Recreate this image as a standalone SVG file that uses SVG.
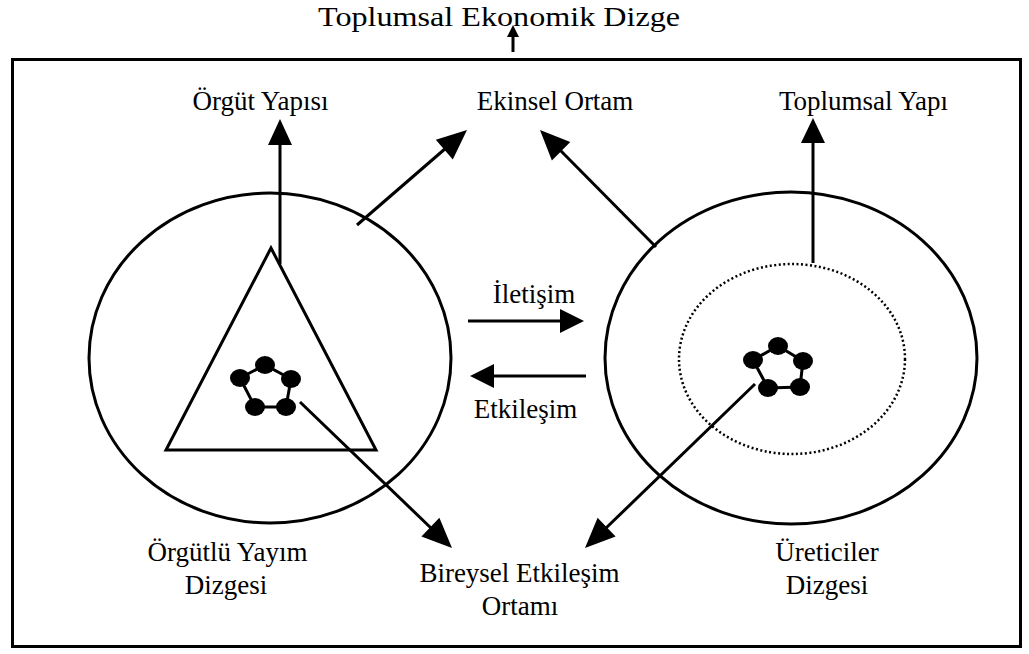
<svg xmlns="http://www.w3.org/2000/svg" width="1029" height="654" viewBox="0 0 1029 654">
<style>
.t{font-family:"Liberation Serif","Times New Roman",serif;font-size:27px;fill:#000;text-anchor:middle}
.s{fill:none;stroke:#000;stroke-width:3}
.l{stroke:#000;stroke-width:3;fill:none}
.h{fill:#000;stroke:none}
.d{fill:#000}
</style>
<rect width="1029" height="654" fill="#fff"/>
<rect x="12.5" y="59.5" width="1008" height="587" class="s"/>
<text class="t" x="499" y="26" style="font-size:28px" textLength="362" lengthAdjust="spacingAndGlyphs">Toplumsal Ekonomik Dizge</text>

<g id="orgutlu-yayim">
<ellipse cx="270" cy="358" rx="181" ry="165" class="s"/>
<polygon points="271,248 166,450 376,450" class="s"/>
<g id="mol-left">
<polyline points="240,378 265,365 291,379 286,407 255,407 240,378" class="l"/>
<ellipse cx="265" cy="365" rx="10" ry="9" class="d"/>
<ellipse cx="240" cy="378" rx="10" ry="9" class="d"/>
<ellipse cx="291" cy="379" rx="10" ry="9" class="d"/>
<ellipse cx="255" cy="407" rx="10" ry="9" class="d"/>
<ellipse cx="286" cy="407" rx="10" ry="9" class="d"/>
</g>
<text class="t" x="227.5" y="561">Örgütlü Yayım</text>
<text class="t" x="226" y="594">Dizgesi</text>
</g>

<g id="ureticiler">
<ellipse cx="791" cy="358" rx="186" ry="166" class="s"/>
<ellipse cx="792" cy="359" rx="113" ry="95" fill="none" stroke="#000" stroke-width="2.5" stroke-dasharray="2,2.5"/>
<g id="mol-right">
<polyline points="753,360 778,346 803,361 800,387 768,388 753,360" class="l"/>
<ellipse cx="778" cy="346" rx="10" ry="9" class="d"/>
<ellipse cx="753" cy="360" rx="10" ry="9" class="d"/>
<ellipse cx="803" cy="361" rx="10" ry="9" class="d"/>
<ellipse cx="768" cy="388" rx="10" ry="9" class="d"/>
<ellipse cx="800" cy="387" rx="10" ry="9" class="d"/>
</g>
<text class="t" x="827" y="561">Üreticiler</text>
<text class="t" x="827" y="594">Dizgesi</text>
</g>

<g id="orgut-yapisi"><text class="t" x="260.5" y="110">Örgüt Yapısı</text></g>
<g id="ekinsel-ortam"><text class="t" x="555" y="110">Ekinsel Ortam</text></g>
<g id="toplumsal-yapi"><text class="t" x="863.5" y="110">Toplumsal Yapı</text></g>
<g id="iletisim"><text class="t" x="534" y="303">İletişim</text></g>
<g id="etkilesim"><text class="t" x="525.5" y="418">Etkileşim</text></g>
<g id="bireysel">
<text class="t" x="519.5" y="582">Bireysel Etkileşim</text>
<text class="t" x="520" y="615">Ortamı</text>
</g>

<g id="connectors">
<line x1="513" y1="52" x2="513" y2="36" class="l" stroke-width="2.5"/>
<polygon points="513,25 507,37 519,37" class="h"/>

<line x1="280" y1="264" x2="280" y2="143" class="l"/>
<polygon points="280,119 268,145 292,145" class="h"/>

<line x1="813" y1="263" x2="813" y2="141" class="l"/>
<polygon points="813,118 801,143 825,143" class="h"/>

<line x1="357" y1="225" x2="446" y2="148" class="l"/>
<polygon points="467,130 452.8,159.4 435.8,139.8" class="h"/>

<line x1="656" y1="247" x2="560" y2="150" class="l"/>
<polygon points="540,130 570.3,142.1 551.9,160.5" class="h"/>

<line x1="468" y1="321" x2="562" y2="321" class="l"/>
<polygon points="584,321 560,309 560,333" class="h"/>

<line x1="586" y1="376" x2="492" y2="376" class="l"/>
<polygon points="470,376 494,364 494,388" class="h"/>

<line x1="300" y1="402" x2="432" y2="529" class="l"/>
<polygon points="452,548 421.4,536.6 439.4,517.8" class="h"/>

<line x1="755" y1="384" x2="605" y2="529" class="l"/>
<polygon points="585,548 615.6,536.6 597.6,517.8" class="h"/>
</g>
</svg>
